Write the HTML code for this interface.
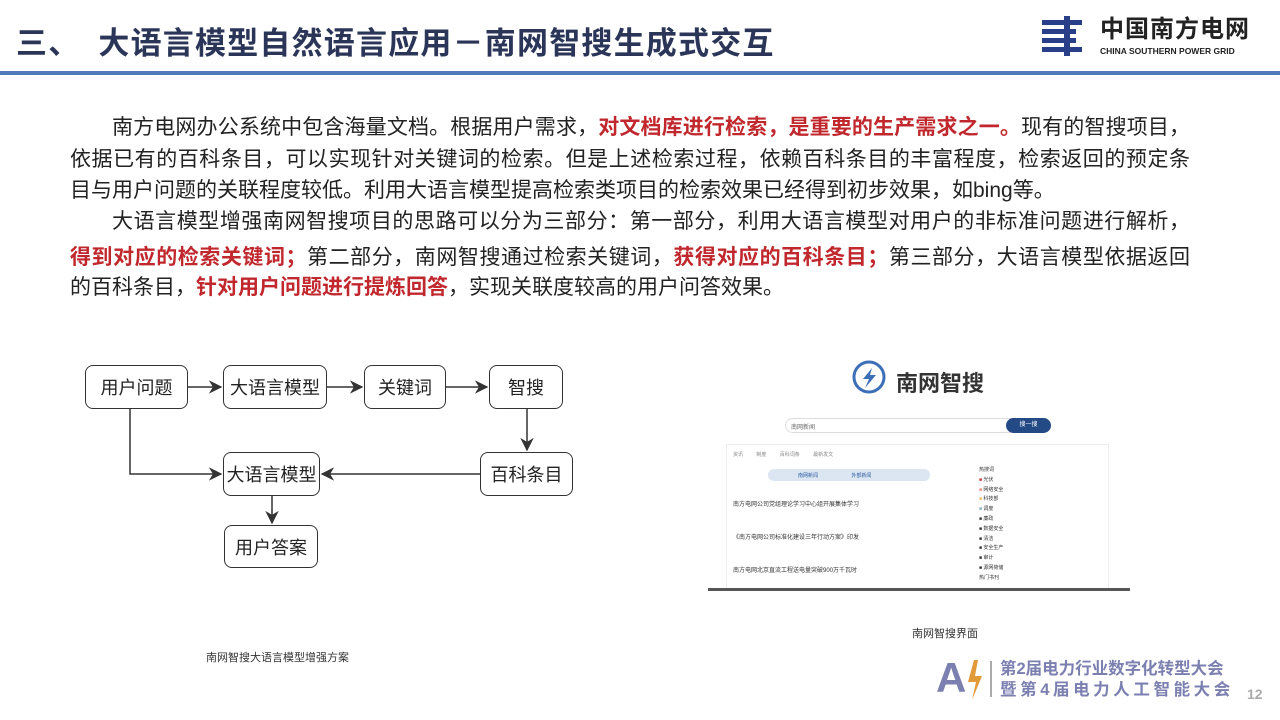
<!DOCTYPE html>
<html><head><meta charset="utf-8"><style>
*{margin:0;padding:0;box-sizing:border-box}
body{width:1280px;height:720px;position:relative;background:#fff;font-family:"Liberation Sans","Noto Sans CJK SC",sans-serif;overflow:hidden}
.abs{position:absolute}
.title{left:16px;top:18px;font-size:31px;font-weight:bold;color:#2a3558;white-space:nowrap;letter-spacing:1.2px}
.rule{left:0;top:71px;width:1280px;height:4px;background:#4f7bbd}
.p div{position:absolute;left:70px;width:1120px;font-size:21px;color:#222;text-align:justify;text-align-last:justify;white-space:nowrap;line-height:30px}
.r{color:#c0282e;font-weight:bold}
.box{position:absolute;border:1.5px solid #333;border-radius:8px;background:#fff;font-size:18px;color:#222;display:flex;align-items:center;justify-content:center}
</style></head><body>
<div class="abs title">三、<span style="display:inline-block;width:18px"></span>大语言模型自然语言应用－南网智搜生成式交互</div>
<div class="abs rule"></div>
<svg class="abs" style="left:1038px;top:16px" width="56" height="40" viewBox="0 0 56 40">
<rect x="4" y="4" width="40" height="5" fill="#2a3f8a"/><rect x="4" y="13" width="34" height="5" fill="#2a3f8a"/><rect x="4" y="22" width="34" height="5" fill="#2a3f8a"/><rect x="4" y="31" width="40" height="5" fill="#2a3f8a"/><rect x="26" y="0" width="6" height="40" fill="#2a3f8a"/>
</svg>
<div class="abs" style="left:1100px;top:16px;font-size:24px;font-weight:bold;color:#222;letter-spacing:1px;line-height:28px">中国南方电网</div>
<div class="abs" style="left:1100px;top:46px;font-size:8.5px;font-weight:bold;color:#222">CHINA SOUTHERN POWER GRID</div>

<div class="p">
<div style="top:113px;left:112px;width:1078px">南方电网办公系统中包含海量文档。根据用户需求，<span class="r">对文档库进行检索，是重要的生产需求之一。</span>现有的智搜项目，</div>
<div style="top:145px">依据已有的百科条目，可以实现针对关键词的检索。但是上述检索过程，依赖百科条目的丰富程度，检索返回的预定条</div>
<div style="top:176px;text-align-last:left;width:auto">目与用户问题的关联程度较低。利用大语言模型提高检索类项目的检索效果已经得到初步效果，如bing等。</div>
<div style="top:207px;left:112px;width:1078px">大语言模型增强南网智搜项目的思路可以分为三部分：第一部分，利用大语言模型对用户的非标准问题进行解析，</div>
<div style="top:243px"><span class="r">得到对应的检索关键词；</span>第二部分，南网智搜通过检索关键词，<span class="r">获得对应的百科条目；</span>第三部分，大语言模型依据返回</div>
<div style="top:273px;text-align-last:left;width:auto">的百科条目，<span class="r">针对用户问题进行提炼回答</span>，实现关联度较高的用户问答效果。</div>
</div>

<svg class="abs" style="left:0;top:0" width="640" height="600">
<defs><marker id="a" viewBox="0 0 10 10" refX="9" refY="5" markerWidth="9" markerHeight="9" orient="auto"><path d="M0,0 L10,5 L0,10 L3,5z" fill="#333"/></marker></defs>
<g stroke="#333" stroke-width="1.5" fill="none">
<line x1="188" y1="387" x2="221" y2="387" marker-end="url(#a)"/>
<line x1="327" y1="387" x2="362" y2="387" marker-end="url(#a)"/>
<line x1="446" y1="387" x2="487" y2="387" marker-end="url(#a)"/>
<line x1="527" y1="409" x2="527" y2="450" marker-end="url(#a)"/>
<line x1="480" y1="474" x2="322" y2="474" marker-end="url(#a)"/>
<polyline points="130,409 130,474 221,474" marker-end="url(#a)"/>
<line x1="272" y1="496" x2="272" y2="523" marker-end="url(#a)"/>
</g></svg>
<div class="box" style="left:85px;top:365px;width:103px;height:44px">用户问题</div>
<div class="box" style="left:223px;top:365px;width:104px;height:44px">大语言模型</div>
<div class="box" style="left:364px;top:365px;width:82px;height:44px">关键词</div>
<div class="box" style="left:489px;top:365px;width:74px;height:44px">智搜</div>
<div class="box" style="left:480px;top:452px;width:93px;height:44px">百科条目</div>
<div class="box" style="left:223px;top:452px;width:97px;height:44px">大语言模型</div>
<div class="box" style="left:224px;top:525px;width:94px;height:43px">用户答案</div>
<div class="abs" style="left:206px;top:649px;font-size:11px;color:#333">南网智搜大语言模型增强方案</div>

<svg class="abs" style="left:850px;top:358px" width="40" height="40" viewBox="0 0 40 40"><circle cx="19" cy="19" r="15" fill="none" stroke="#3c6fb8" stroke-width="3"/><path d="M22 10 L13 21 L19 21 L15 30 L26 17 L20 17z" fill="#3c6fb8"/></svg>
<div class="abs" style="left:896px;top:366px;font-size:22px;font-weight:bold;color:#333">南网智搜</div>
<div class="abs" style="left:785px;top:418px;width:238px;height:15px;border:1px solid #ddd;border-radius:8px;font-size:6px;color:#666;padding:3px 5px">南网新闻</div>
<div class="abs" style="left:1006px;top:418px;width:45px;height:15px;background:#244a86;border-radius:8px;font-size:6px;color:#fff;text-align:center;line-height:15px">搜一搜</div>
<div class="abs" style="left:726px;top:444px;width:383px;height:145px;border:1px solid #eee;border-bottom:none"></div>
<div class="abs" style="left:733px;top:451px;font-size:5px;color:#888;word-spacing:12px">资讯 制度 百科词条 最新发文</div>
<div class="abs" style="left:768px;top:469px;width:162px;height:12px;background:#dbe6f2;border-radius:6px;font-size:5px;color:#2c5aa0;padding:3px 0 0 30px">南网新闻&nbsp;&nbsp;&nbsp;&nbsp;&nbsp;&nbsp;&nbsp;&nbsp;&nbsp;&nbsp;&nbsp;&nbsp;&nbsp;&nbsp;&nbsp;&nbsp;&nbsp;&nbsp;&nbsp;&nbsp;&nbsp;&nbsp;&nbsp;&nbsp;外部新闻</div>
<div class="abs" style="left:733px;top:489px;font-size:6px;color:#333;line-height:33px">南方电网公司党组理论学习中心组开展集体学习<br>《南方电网公司标准化建设三年行动方案》印发<br>南方电网北京直流工程送电量突破900万千瓦时</div>
<div class="abs" style="left:979px;top:466px;font-size:5px;color:#333;line-height:9.8px">热搜词<br><span style="color:#c33">■</span> 光伏<br><span style="color:#e87">■</span> 网络安全<br><span style="color:#eb5">■</span> 科技部<br><span style="color:#8ab">■</span> 调度<br>■ 廉政<br>■ 数据安全<br>■ 清洁<br>■ 安全生产<br>■ 审计<br>■ 源网荷储<br>热门书刊</div>
<div class="abs" style="left:708px;top:588px;width:422px;height:3px;background:#555"></div>
<div class="abs" style="left:912px;top:625px;font-size:11px;color:#333">南网智搜界面</div>

<div class="abs" style="left:936px;top:657px;font-size:42px;font-weight:bold;color:#7b80b0;line-height:42px">A</div>
<svg class="abs" style="left:966px;top:660px" width="18" height="40" viewBox="0 0 18 40"><path d="M8 0 L2 22 L10 22 L6 40 L16 16 L9 16 L12 0z" fill="#e09a3a"/></svg>
<div class="abs" style="left:990px;top:661px;width:1.5px;height:36px;background:#aaa"></div>
<div class="abs" style="left:1000px;top:659px;font-size:16.5px;font-weight:bold;color:#7b80b0;line-height:21px;white-space:nowrap">第2届电力行业数字化转型大会<br><span style="letter-spacing:3.6px">暨第4届电力人工智能大会</span></div>
<div class="abs" style="left:1247px;top:686px;font-size:14px;font-weight:bold;color:#aaa">12</div>
</body></html>
